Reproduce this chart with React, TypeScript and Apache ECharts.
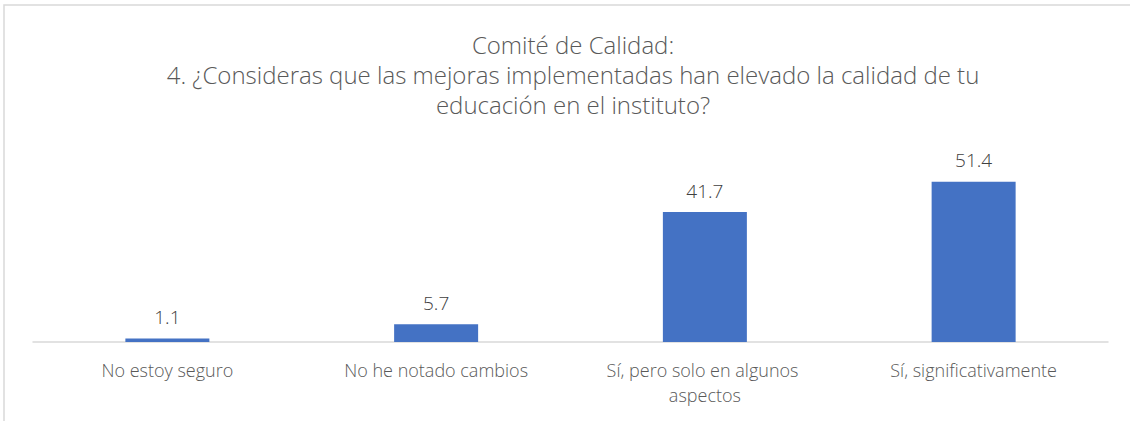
import React, { useEffect, useRef } from "react";
import * as echarts from "echarts";

const categories = [
  "No estoy seguro",
  "No he notado cambios",
  "Sí, pero solo en algunos aspectos",
  "Sí, significativamente",
];
const values = [1.1, 5.7, 41.7, 51.4];
const titleLines = [
  "Comité de Calidad:",
  "4. ¿Consideras que las mejoras implementadas han elevado la calidad de tu",
  "educación en el instituto?",
];

const FONT = "'Open Sans', 'Noto Sans', sans-serif";

export default function App() {
  const ref = useRef<HTMLDivElement>(null);
  useEffect(() => {
    if (!ref.current) return;
    const chart = echarts.init(ref.current, undefined, { renderer: "svg" });
    chart.setOption({
      animation: false,
      backgroundColor: "#ffffff",
      title: {
        text: titleLines.join("\n"),
        left: 568,
        textAlign: "center",
        top: 24,
        textStyle: {
          fontFamily: FONT,
          fontSize: 24,
          fontWeight: 300,
          color: "#595959",
          lineHeight: 30,
        },
      },
      graphic: [
        {
          type: "rect",
          shape: { x: 4, y: 5, width: 1300, height: 600 },
          style: { fill: "none", stroke: "#d9d9d9", lineWidth: 1.5 },
          silent: true,
        },
      ],
      grid: { left: 33, right: 22, top: 155, bottom: 79 },
      xAxis: {
        type: "category",
        data: categories,
        axisLine: { lineStyle: { color: "#d9d9d9", width: 1.5 } },
        axisTick: { show: false },
        axisLabel: {
          fontFamily: FONT,
          fontSize: 18,
          fontWeight: 300,
          color: "#595959",
          margin: 15,
          lineHeight: 25,
          width: 250,
          overflow: "break",
          interval: 0,
        },
      },
      yAxis: {
        type: "value",
        min: 0,
        max: 60,
        show: false,
        splitLine: { show: false },
      },
      series: [
        {
          type: "bar",
          data: values,
          barWidth: 84,
          itemStyle: { color: "#4472c4" },
          label: {
            show: true,
            position: "top",
            distance: 12,
            fontFamily: FONT,
            fontSize: 19,
            fontWeight: 300,
            color: "#404040",
          },
        },
      ],
    });
    return () => chart.dispose();
  }, []);
  return (
    <div
      ref={ref}
      style={{ position: "fixed", left: 0, top: 0, width: 1130, height: 421 }}
    />
  );
}
